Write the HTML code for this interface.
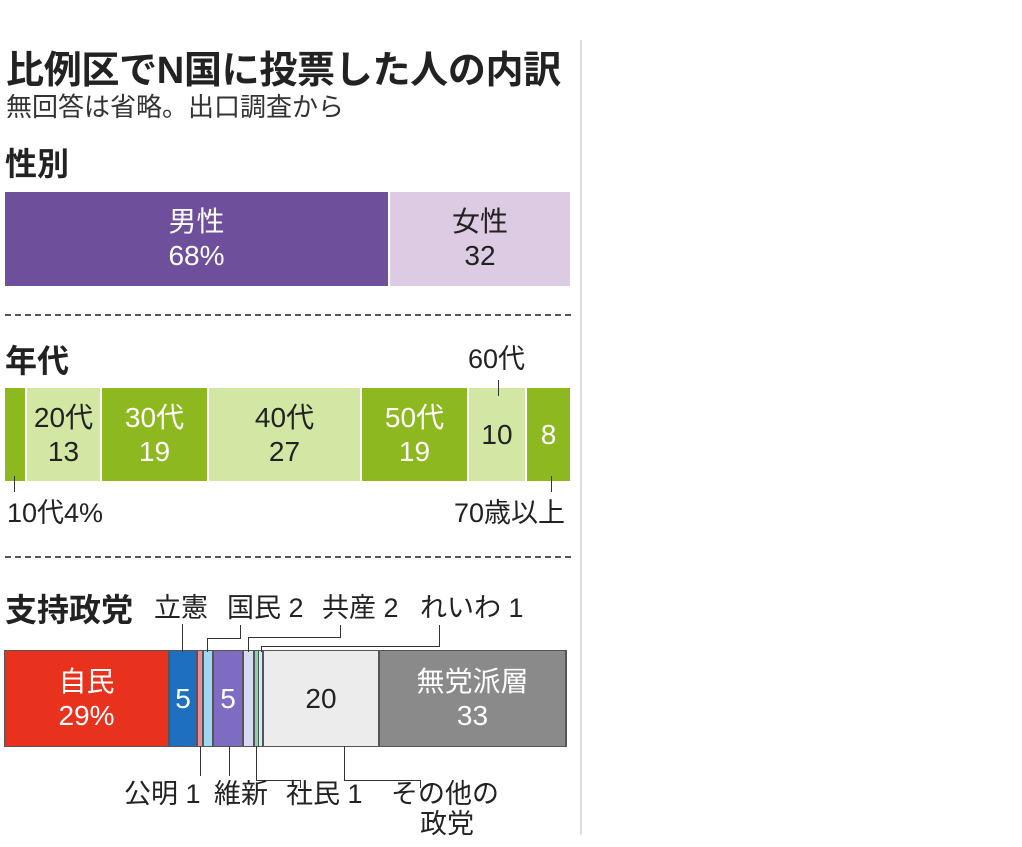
<!DOCTYPE html>
<html><head><meta charset="utf-8"><style>
body{margin:0;width:1022px;height:847px;background:#fff;position:relative;overflow:hidden;font-family:"Liberation Sans","Noto Sans CJK JP",sans-serif;color:#222}
.a{position:absolute;white-space:nowrap;line-height:1}
.b{position:absolute;display:flex;align-items:center;justify-content:center;text-align:center;line-height:1.2;font-size:28px}
.h{font-weight:bold;font-size:32px}
.l{position:absolute;background:#333}
.d{position:absolute;left:5px;width:566px;border-top:2px dashed #555}
.t{font-size:27px}
</style></head><body>
<div class="a" style="left:580px;top:40px;width:2px;height:795px;background:#ddd"></div>
<div class="a" style="left:6px;top:52px;font-size:38px;font-weight:bold;letter-spacing:-0.3px">比例区でN国に投票した人の内訳</div>
<div class="a" style="left:6px;top:94px;font-size:26px;color:#333;letter-spacing:0px">無回答は省略。出口調査から</div>
<div class="a h" style="left:5px;top:148px">性別</div>
<div class="b" style="left:5px;top:192px;width:383px;height:94px;background:#6e4f9b;color:#fff">男性<br>68%</div>
<div class="b" style="left:390px;top:192px;width:180px;height:94px;background:#dccbe3">女性<br>32</div>
<div class="d" style="top:314px"></div>
<div class="a h" style="left:5px;top:345px">年代</div>
<div class="b" style="left:5px;top:388px;width:20px;height:93px;background:#8db81f"></div>
<div class="b" style="left:27px;top:388px;width:73px;height:93px;background:#d3e7a5">20代<br>13</div>
<div class="b" style="left:102px;top:388px;width:105px;height:93px;background:#8db81f;color:#fff">30代<br>19</div>
<div class="b" style="left:209px;top:388px;width:151px;height:93px;background:#d3e7a5">40代<br>27</div>
<div class="b" style="left:362px;top:388px;width:105px;height:93px;background:#8db81f;color:#fff">50代<br>19</div>
<div class="b" style="left:469px;top:388px;width:56px;height:93px;background:#d3e7a5">10</div>
<div class="b" style="left:527px;top:388px;width:43px;height:93px;background:#8db81f;color:#fff">8</div>
<div class="a t" style="left:468px;top:346px">60代</div>
<div class="l" style="left:498px;top:380px;width:1px;height:16px"></div>
<div class="l" style="left:14px;top:476px;width:1px;height:16px"></div>
<div class="l" style="left:551px;top:476px;width:1px;height:16px"></div>
<div class="a t" style="left:7px;top:500px">10代4%</div>
<div class="a t" style="left:454px;top:500px">70歳以上</div>
<div class="d" style="top:556px"></div>
<div class="a h" style="left:5px;top:594px">支持政党</div>
<div class="a t" style="left:154px;top:595px">立憲</div>
<div class="a t" style="left:227px;top:595px">国民 2</div>
<div class="a t" style="left:322px;top:595px">共産 2</div>
<div class="a t" style="left:420px;top:595px">れいわ 1</div>
<div class="a" style="left:4px;top:650px;width:561px;height:95px;border:1px solid #555;background:#555"></div>
<div class="b" style="left:5px;top:651px;width:163px;height:95px;background:#e8321e;color:#fff">自民<br>29%</div>
<div class="b" style="left:170px;top:651px;width:26px;height:95px;background:#1e6fc0;color:#fff">5</div>
<div class="b" style="left:198px;top:651px;width:4px;height:95px;background:#f08a9a"></div>
<div class="b" style="left:204px;top:651px;width:8px;height:95px;background:#9fd6f2"></div>
<div class="b" style="left:214px;top:651px;width:28px;height:95px;background:#7d6cc2;color:#fff">5</div>
<div class="b" style="left:244px;top:651px;width:9px;height:95px;background:#d6dbf2"></div>
<div class="b" style="left:255px;top:651px;width:3px;height:95px;background:#8ed3a6"></div>
<div class="b" style="left:259px;top:651px;width:3px;height:95px;background:#c8eef5"></div>
<div class="b" style="left:264px;top:651px;width:114px;height:95px;background:#ececec">20</div>
<div class="b" style="left:380px;top:651px;width:185px;height:95px;background:#8a8a8a;color:#fff">無党派層<br>33</div>
<div class="l" style="left:182px;top:624px;width:1px;height:28px"></div>
<div class="l" style="left:207px;top:638px;width:1px;height:14px"></div>
<div class="l" style="left:207px;top:638px;width:34px;height:1px"></div>
<div class="l" style="left:240px;top:625px;width:1px;height:14px"></div>
<div class="l" style="left:248px;top:637px;width:1px;height:15px"></div>
<div class="l" style="left:248px;top:637px;width:92px;height:1px"></div>
<div class="l" style="left:340px;top:625px;width:1px;height:13px"></div>
<div class="l" style="left:261px;top:646px;width:1px;height:6px"></div>
<div class="l" style="left:261px;top:646px;width:178px;height:1px"></div>
<div class="l" style="left:439px;top:625px;width:1px;height:22px"></div>
<div class="l" style="left:200px;top:746px;width:1px;height:30px"></div>
<div class="l" style="left:229px;top:746px;width:1px;height:30px"></div>
<div class="l" style="left:256px;top:746px;width:1px;height:35px"></div>
<div class="l" style="left:256px;top:780px;width:45px;height:1px"></div>
<div class="l" style="left:300px;top:780px;width:1px;height:8px"></div>
<div class="l" style="left:344px;top:746px;width:1px;height:35px"></div>
<div class="l" style="left:344px;top:780px;width:76px;height:1px"></div>
<div class="l" style="left:420px;top:780px;width:1px;height:8px"></div>
<div class="a t" style="left:124px;top:781px">公明 1</div>
<div class="a t" style="left:214px;top:781px">維新</div>
<div class="a t" style="left:286px;top:781px">社民 1</div>
<div class="a t" style="left:391px;top:781px">その他の</div>
<div class="a t" style="left:420px;top:811px">政党</div>
</body></html>
